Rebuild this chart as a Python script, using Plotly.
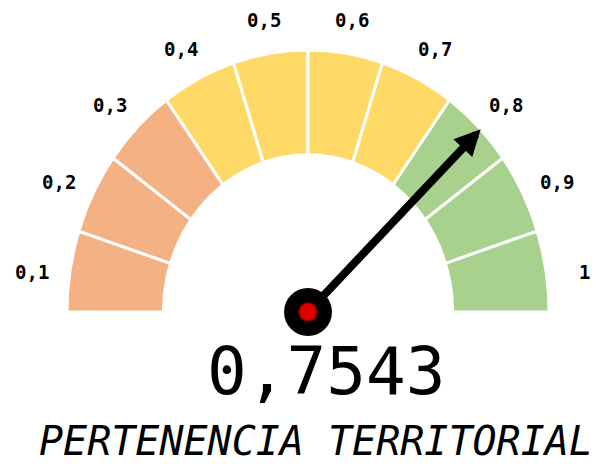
import numpy as np
import plotly.graph_objects as go

# Gauge data
value = 0.7543
value_label = "0,7543"
band_edges = [0.0, 0.1, 0.2, 0.3, 0.4, 0.5, 0.6, 0.7, 0.8, 0.9, 1.0]
band_colors = ["#F4B183"] * 3 + ["#FFD966"] * 4 + ["#A9D18E"] * 3
tick_labels = ["0,1", "0,2", "0,3", "0,4", "0,5", "0,6", "0,7", "0,8", "0,9", "1"]
title_text = "PERTENENCIA TERRITORIAL"

W, H = 596, 466
R_OUT, R_IN = 1.0, 0.6
FONT = "DejaVu Sans Mono"


def angle(v):
    """Gauge value (0..1) -> polar angle, 0 on the left, 1 on the right."""
    return np.pi * (1.0 - v)


fig = go.Figure()

# Coloured ring segments
for lo, hi, col in zip(band_edges[:-1], band_edges[1:], band_colors):
    t = np.linspace(angle(lo), angle(hi), 60)
    xs = np.concatenate([R_OUT * np.cos(t), R_IN * np.cos(t[::-1])])
    ys = np.concatenate([R_OUT * np.sin(t), R_IN * np.sin(t[::-1])])
    xs = np.append(xs, xs[0])
    ys = np.append(ys, ys[0])
    fig.add_trace(go.Scatter(
        x=xs, y=ys, mode="lines", fill="toself", fillcolor=col,
        line=dict(color="white", width=3), hoverinfo="skip", showlegend=False,
    ))

# Segment labels, placed at the middle of each segment
mids = [(lo + hi) / 2 for lo, hi in zip(band_edges[:-1], band_edges[1:])]
for m, lab in zip(mids, tick_labels):
    a = angle(m)
    fig.add_annotation(
        x=1.16 * np.cos(a), y=1.16 * np.sin(a), xref="x", yref="y",
        text=lab, showarrow=False, yshift=-8,
        font=dict(family=FONT, size=19, color="black", weight="bold"),
    )

# Needle
a = angle(value)
fig.add_annotation(
    x=R_OUT * np.cos(a), y=R_OUT * np.sin(a), xref="x", yref="y",
    ax=0, ay=0, axref="x", ayref="y", text="",
    showarrow=True, arrowhead=2, arrowsize=0.65, arrowwidth=8,
    arrowcolor="black", startstandoff=20,
)

# Hub
fig.add_trace(go.Scatter(
    x=[0], y=[0], mode="markers",
    marker=dict(size=48, color="black"), hoverinfo="skip", showlegend=False,
))
fig.add_trace(go.Scatter(
    x=[0], y=[0], mode="markers",
    marker=dict(size=18, color="#E00000", line=dict(color="#8B0000", width=1.5)),
    hoverinfo="skip", showlegend=False,
))

# Value readout and title
fig.add_annotation(
    x=326 / W, y=1 - 371 / H, xref="paper", yref="paper",
    text=value_label, showarrow=False, xanchor="center", yanchor="middle",
    font=dict(family=FONT, size=66, color="black"),
)
fig.add_annotation(
    x=316 / W, y=0, xref="paper", yref="paper",
    text=title_text, showarrow=False, xanchor="center", yanchor="bottom",
    font=dict(family=FONT, size=40, color="black", style="italic"),
)

sx, sy = 241.0, 262.0  # pixels per unit radius
cx, cy = 308.0, 312.0  # gauge centre in pixels
fig.update_layout(
    width=W, height=H,
    margin=dict(l=0, r=0, t=0, b=0),
    paper_bgcolor="white", plot_bgcolor="white",
    xaxis=dict(range=[-cx / sx, (W - cx) / sx], visible=False, fixedrange=True),
    yaxis=dict(range=[-(H - cy) / sy, cy / sy], visible=False, fixedrange=True),
    showlegend=False,
)

fig.write_html("out.html")
